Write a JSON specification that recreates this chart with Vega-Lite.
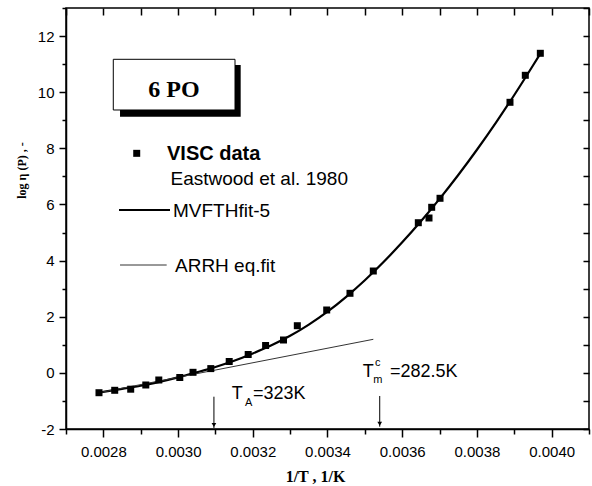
{
  "$schema": "https://vega.github.io/schema/vega-lite/v6.json",
  "width": 523,
  "height": 421,
  "autosize": {"type": "none"},
  "padding": {"left": 66, "top": 8, "right": 3, "bottom": 57},
  "background": "white",
  "config": {
    "view": {"stroke": "black", "strokeWidth": 1.5},
    "axis": {
      "domainColor": "black",
      "domainWidth": 1.5,
      "tickColor": "black",
      "tickWidth": 1.5,
      "gridColor": "black",
      "gridWidth": 1.5,
      "gridOpacity": 1,
      "labelFont": "Liberation Sans",
      "labelFontSize": 15,
      "labelColor": "black",
      "titleFont": "Liberation Serif",
      "titleFontWeight": "bold",
      "titleColor": "black"
    }
  },
  "datasets": {
    "visc": [
      {"x": 0.0027883, "y": -0.707},
      {"x": 0.0028304, "y": -0.621},
      {"x": 0.0028732, "y": -0.582},
      {"x": 0.0029136, "y": -0.432},
      {"x": 0.0029484, "y": -0.254},
      {"x": 0.0030046, "y": -0.165},
      {"x": 0.00304, "y": 0.02},
      {"x": 0.0030876, "y": 0.152},
      {"x": 0.0031369, "y": 0.405},
      {"x": 0.0031877, "y": 0.654},
      {"x": 0.0032343, "y": 0.975},
      {"x": 0.0032822, "y": 1.171},
      {"x": 0.0033192, "y": 1.68},
      {"x": 0.0033979, "y": 2.24},
      {"x": 0.0034602, "y": 2.835},
      {"x": 0.0035226, "y": 3.629},
      {"x": 0.0036431, "y": 5.35},
      {"x": 0.0036717, "y": 5.518},
      {"x": 0.0036789, "y": 5.899},
      {"x": 0.0037012, "y": 6.22},
      {"x": 0.0038885, "y": 9.64},
      {"x": 0.0039295, "y": 10.602},
      {"x": 0.0039697, "y": 11.386}
    ],
    "fit": [
      {"x": 0.00279, "y": -0.70},
      {"x": 0.00285, "y": -0.57},
      {"x": 0.0029, "y": -0.46},
      {"x": 0.00295, "y": -0.32},
      {"x": 0.0030, "y": -0.16},
      {"x": 0.00305, "y": 0.02},
      {"x": 0.0031, "y": 0.21},
      {"x": 0.00315, "y": 0.43},
      {"x": 0.0032, "y": 0.69},
      {"x": 0.00325, "y": 0.98},
      {"x": 0.0033, "y": 1.32},
      {"x": 0.00335, "y": 1.72},
      {"x": 0.0034, "y": 2.18},
      {"x": 0.00345, "y": 2.71},
      {"x": 0.0035, "y": 3.30},
      {"x": 0.00355, "y": 3.95},
      {"x": 0.0036, "y": 4.65},
      {"x": 0.00365, "y": 5.40},
      {"x": 0.0037, "y": 6.20},
      {"x": 0.00375, "y": 7.05},
      {"x": 0.0038, "y": 7.95},
      {"x": 0.00385, "y": 8.90},
      {"x": 0.0039, "y": 9.90},
      {"x": 0.00395, "y": 10.95},
      {"x": 0.00397, "y": 11.38}
    ],
    "arrh": [
      {"x": 0.0027883, "y": -0.707},
      {"x": 0.0035226, "y": 1.196}
    ],
    "legMV": [
      {"x": 0.0028419, "y": 5.803},
      {"x": 0.0029784, "y": 5.803}
    ],
    "legAR": [
      {"x": 0.0028446, "y": 3.843},
      {"x": 0.0029695, "y": 3.843}
    ],
    "legSq": [
      {"x": 0.0028893, "y": 7.822}
    ],
    "legBold": [
      {"x": 0.0029704, "y": 7.584, "label": "VISC data"}
    ],
    "legText": [
      {"x": 0.0029797, "y": 6.693, "label": "Eastwood et al. 1980"},
      {"x": 0.0029864, "y": 5.553, "label": "MVFTHfit-5"},
      {"x": 0.0029918, "y": 3.604, "label": "ARRH eq.fit"}
    ],
    "anno": [
      {"x": 0.0031436, "y": -0.931, "label": "T"},
      {"x": 0.0032006, "y": -0.931, "label": "=323K"},
      {"x": 0.0034942, "y": -0.137, "label": "T"},
      {"x": 0.0035673, "y": -0.137, "label": "=282.5K"}
    ],
    "annoSmall": [
      {"x": 0.0031792, "y": -1.17, "label": "A"},
      {"x": 0.0035226, "y": -0.372, "label": "m"},
      {"x": 0.0035271, "y": 0.245, "label": "c"}
    ],
    "arrows": [
      {"x": 0.003096, "y": -0.849, "y2": -1.964, "yh": -1.857},
      {"x": 0.0035398, "y": -0.824, "y2": -1.918, "yh": -1.811}
    ],
    "shadow": [
      {"x": 0.0028446, "x2": 0.0031676, "y": 10.969, "y2": 9.127}
    ],
    "box": [
      {"x": 0.0028266, "x2": 0.0031524, "y": 11.172, "y2": 9.366}
    ],
    "boxText": [
      {"x": 0.0029891, "y": 9.84, "label": "6 PO"}
    ]
  },
  "resolve": {"axis": {"x": "independent", "y": "independent"}},
  "layer": [
    {
      "data": {"name": "fit"},
      "mark": {"type": "line", "color": "black", "strokeWidth": 2.2, "interpolate": "monotone"},
      "encoding": {
        "x": {
          "field": "x", "type": "quantitative",
          "scale": {"domain": [0.0027, 0.0041], "nice": false, "zero": false},
          "axis": {
            "orient": "bottom",
            "values": [0.0027, 0.0028, 0.0029, 0.0030, 0.0031, 0.0032, 0.0033, 0.0034, 0.0035, 0.0036, 0.0037, 0.0038, 0.0039, 0.0040, 0.0041],
            "labelExpr": "round(datum.value*10000) % 2 == 0 ? format(datum.value, '.4f') : ''",
            "tickSize": {"condition": {"test": "round(datum.value*10000) % 2 == 0", "value": 8}, "value": 5},
            "grid": true,
            "gridDash": [7, 1000],
            "labelPadding": 7,
            "labelFlush": false,
            "labelOverlap": false,
            "title": "1/T , 1/K",
            "titleFontSize": 16,
            "titleX": 249,
            "titleY": 52,
            "titleBaseline": "alphabetic",
            "titleAnchor": "middle",
            "titleAlign": "center"
          }
        },
        "y": {
          "field": "y", "type": "quantitative",
          "scale": {"domain": [-2, 13], "nice": false, "zero": false},
          "axis": {
            "orient": "left",
            "values": [-2, -1, 0, 1, 2, 3, 4, 5, 6, 7, 8, 9, 10, 11, 12, 13],
            "labelExpr": "datum.value % 2 == 0 ? ('' + datum.value) : ''",
            "tickSize": {"condition": {"test": "datum.value % 2 == 0", "value": 7}, "value": 4},
            "grid": true,
            "gridDash": [0, 517, 6, 1000],
            "labelPadding": 5,
            "labelFlush": false,
            "labelOverlap": false,
            "title": "log η (P) , -",
            "titleFontSize": 12,
            "titleAngle": -90,
            "titleX": -45,
            "titleY": 162,
            "titleAlign": "center",
            "titleBaseline": "middle"
          }
        }
      }
    },
    {
      "data": {"name": "arrh"},
      "mark": {"type": "line", "color": "#333333", "strokeWidth": 1},
      "encoding": {
        "x": {"field": "x", "type": "quantitative", "axis": null},
        "y": {"field": "y", "type": "quantitative", "axis": null}
      }
    },
    {
      "data": {"name": "visc"},
      "mark": {"type": "point", "shape": "square", "filled": true, "size": 49, "color": "black", "opacity": 1},
      "encoding": {
        "x": {"field": "x", "type": "quantitative", "axis": null},
        "y": {"field": "y", "type": "quantitative", "axis": null}
      }
    },
    {
      "data": {"name": "shadow"},
      "mark": {"type": "rect", "color": "black"},
      "encoding": {
        "x": {"field": "x", "type": "quantitative", "axis": null},
        "x2": {"field": "x2"},
        "y": {"field": "y", "type": "quantitative", "axis": null},
        "y2": {"field": "y2"}
      }
    },
    {
      "data": {"name": "box"},
      "mark": {"type": "rect", "fill": "white", "stroke": "black", "strokeWidth": 1},
      "encoding": {
        "x": {"field": "x", "type": "quantitative", "axis": null},
        "x2": {"field": "x2"},
        "y": {"field": "y", "type": "quantitative", "axis": null},
        "y2": {"field": "y2"}
      }
    },
    {
      "data": {"name": "boxText"},
      "mark": {"type": "text", "font": "Liberation Serif", "fontWeight": "bold", "fontSize": 24, "align": "center", "baseline": "alphabetic", "color": "black"},
      "encoding": {
        "x": {"field": "x", "type": "quantitative", "axis": null},
        "y": {"field": "y", "type": "quantitative", "axis": null},
        "text": {"field": "label"}
      }
    },
    {
      "data": {"name": "legSq"},
      "mark": {"type": "point", "shape": "square", "filled": true, "size": 49, "color": "black", "opacity": 1},
      "encoding": {
        "x": {"field": "x", "type": "quantitative", "axis": null},
        "y": {"field": "y", "type": "quantitative", "axis": null}
      }
    },
    {
      "data": {"name": "legMV"},
      "mark": {"type": "line", "color": "black", "strokeWidth": 2.2},
      "encoding": {
        "x": {"field": "x", "type": "quantitative", "axis": null},
        "y": {"field": "y", "type": "quantitative", "axis": null}
      }
    },
    {
      "data": {"name": "legAR"},
      "mark": {"type": "line", "color": "#333333", "strokeWidth": 1},
      "encoding": {
        "x": {"field": "x", "type": "quantitative", "axis": null},
        "y": {"field": "y", "type": "quantitative", "axis": null}
      }
    },
    {
      "data": {"name": "legBold"},
      "mark": {"type": "text", "font": "Liberation Sans", "fontWeight": "bold", "fontSize": 20, "align": "left", "baseline": "alphabetic", "color": "black"},
      "encoding": {
        "x": {"field": "x", "type": "quantitative", "axis": null},
        "y": {"field": "y", "type": "quantitative", "axis": null},
        "text": {"field": "label"}
      }
    },
    {
      "data": {"name": "legText"},
      "mark": {"type": "text", "font": "Liberation Sans", "fontSize": 19, "align": "left", "baseline": "alphabetic", "color": "black"},
      "encoding": {
        "x": {"field": "x", "type": "quantitative", "axis": null},
        "y": {"field": "y", "type": "quantitative", "axis": null},
        "text": {"field": "label"}
      }
    },
    {
      "data": {"name": "anno"},
      "mark": {"type": "text", "font": "Liberation Sans", "fontSize": 18, "align": "left", "baseline": "alphabetic", "color": "black"},
      "encoding": {
        "x": {"field": "x", "type": "quantitative", "axis": null},
        "y": {"field": "y", "type": "quantitative", "axis": null},
        "text": {"field": "label"}
      }
    },
    {
      "data": {"name": "annoSmall"},
      "mark": {"type": "text", "font": "Liberation Sans", "fontSize": 11, "align": "left", "baseline": "alphabetic", "color": "black"},
      "encoding": {
        "x": {"field": "x", "type": "quantitative", "axis": null},
        "y": {"field": "y", "type": "quantitative", "axis": null},
        "text": {"field": "label"}
      }
    },
    {
      "data": {"name": "arrows"},
      "mark": {"type": "rule", "color": "black", "strokeWidth": 1},
      "encoding": {
        "x": {"field": "x", "type": "quantitative", "axis": null},
        "y": {"field": "y", "type": "quantitative", "axis": null},
        "y2": {"field": "y2"}
      }
    },
    {
      "data": {"name": "arrows"},
      "mark": {"type": "point", "shape": "triangle-down", "filled": true, "size": 22, "color": "black", "opacity": 1},
      "encoding": {
        "x": {"field": "x", "type": "quantitative", "axis": null},
        "y": {"field": "yh", "type": "quantitative", "axis": null}
      }
    }
  ]
}
